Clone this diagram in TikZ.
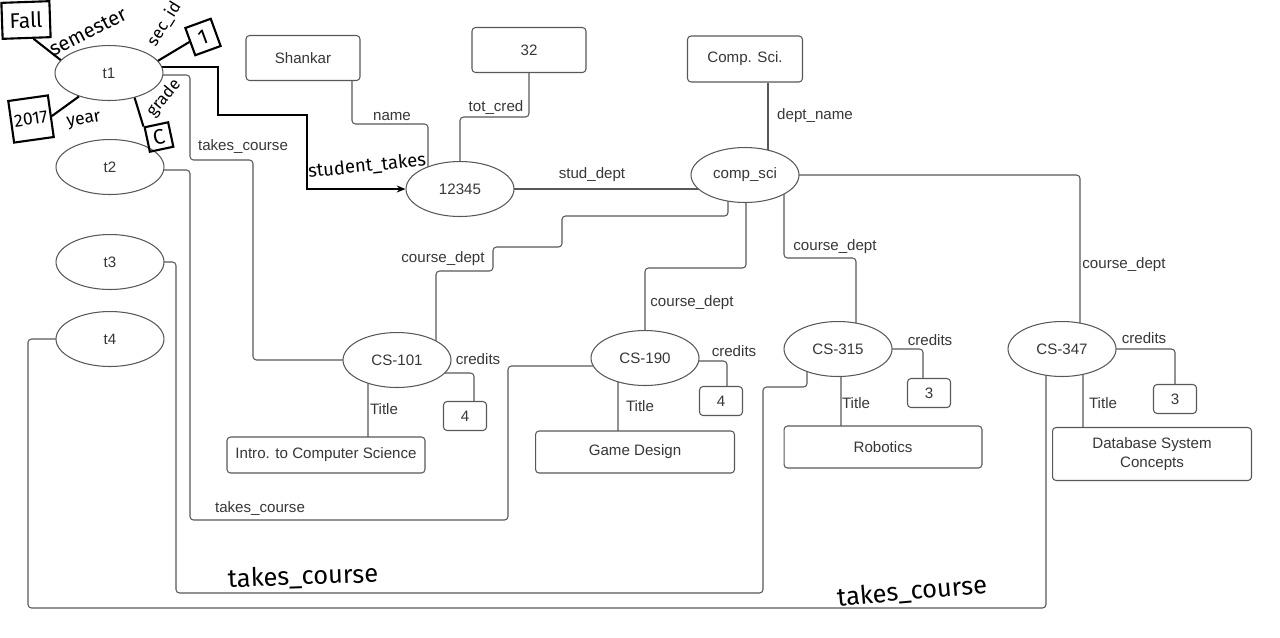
\documentclass[tikz,border=0pt]{standalone}
\usepackage{fontspec}
\setmainfont{Liberation Sans}
\newfontfamily\handfont{Fira Sans}
\usepackage{tikz}
\usetikzlibrary{calc}
\usetikzlibrary{positioning,shapes.geometric,arrows.meta}
\pgfdeclarelayer{bg}
\pgfsetlayers{bg,main}
\definecolor{linegray}{RGB}{88,88,88}
\definecolor{textgray}{RGB}{55,55,55}

\begin{document}
\begin{tikzpicture}[x=0.02cm, y=-0.02cm,
        ent/.style={ellipse, draw=linegray, line width=0.6pt, fill=white, minimum width=2.16cm, minimum height=1.1cm, inner sep=0pt, text=textgray, font=\fontsize{8.6}{10}\selectfont},
        val/.style={rectangle, rounded corners=2pt, draw=linegray, line width=0.6pt, fill=white, inner sep=0pt, text=textgray, font=\fontsize{8.6}{10.8}\selectfont},
        small/.style={val, minimum width=0.86cm, minimum height=0.58cm},
        lbl/.style={inner sep=0pt, text=textgray, font=\fontsize{8.6}{10}\selectfont},
        conn/.style={draw=linegray, line width=0.6pt, rounded corners=2pt},
        hand/.style={black, line width=1.2pt},
        hbox/.style={draw=black, line width=1.2pt, inner sep=0pt, font=\handfont\fontsize{12}{12}\selectfont},
        htext/.style={inner sep=0pt, font=\handfont\fontsize{10.5}{11}\selectfont}]
        \useasboundingbox (0,0) rectangle (1280,637);

        \node[ent] (t1) at (109,73) {t1};
        \node[ent] (t2) at (110,167) {t2};
        \node[ent] (t3) at (110,262) {t3};
        \node[ent] (t4) at (110,339) {t4};
        \node[ent] (stud) at (460,189) {12345};
        \node[ent] (dept) at (745,175) {comp\_sci};
        \node[ent] (cs101) at (397,360) {CS-101};
        \node[ent] (cs190) at (645,358) {CS-190};
        \node[ent] (cs315) at (838,349) {CS-315};
        \node[ent] (cs347) at (1062,349) {CS-347};

        \node[val, minimum width=2.28cm, minimum height=0.9cm] (shankar) at (303,58) {Shankar};
        \node[val, minimum width=2.28cm, minimum height=0.9cm] (cred) at (529,50) {32};
        \node[val, minimum width=2.3cm, minimum height=0.92cm] (dname) at (745,59) {Comp. Sci.};
        \node[small] (cr101) at (465,416) {4};
        \node[small] (cr190) at (721,401) {4};
        \node[small] (cr315) at (929,393) {3};
        \node[small] (cr347) at (1175,399) {3};
        \node[val, minimum width=3.96cm, minimum height=0.72cm] (ti101) at (326,455) {Intro. to Computer Science};
        \node[val, minimum width=3.98cm, minimum height=0.84cm] (ti190) at (635,452) {Game Design};
        \node[val, minimum width=3.96cm, minimum height=0.84cm] (ti315) at (883,447) {Robotics};
        \node[val, minimum width=3.98cm, minimum height=1.06cm, align=center] (ti347) at (1152,454) {Database System\\Concepts};

        \node[lbl] (lname) at (392,116) {name};
        \node[lbl] (lcred) at (496,108) {tot\_cred};
        \node[lbl] (ldname) at (815,116) {dept\_name};
        \node[lbl] (lsdept) at (592,175) {stud\_dept};
        \node[lbl] (ltc1) at (243,147) {takes\_course};
        \node[lbl] (ltc2) at (260,509) {takes\_course};
        \node[lbl] (lcd101) at (443,259) {course\_dept};
        \node[lbl] (lcd190) at (692,303) {course\_dept};
        \node[lbl] (lcd315) at (835,247) {course\_dept};
        \node[lbl] (lcd347) at (1124,265) {course\_dept};
        \node[lbl] (lcr101) at (478,359) {credits};
        \node[lbl] (lcr190) at (734,351) {credits};
        \node[lbl] (lcr315) at (930,340) {credits};
        \node[lbl] (lcr347) at (1144,338) {credits};
        \node[lbl] (lti101) at (384,409) {Title};
        \node[lbl] (lti190) at (640,406) {Title};
        \node[lbl] (lti315) at (856,403) {Title};
        \node[lbl] (lti347) at (1103,403) {Title};

        \begin{pgfonlayer}{bg}
            \draw[conn] ($(shankar.south)+(49,0)$) |- (428,124) -- ($(stud.center)+(-32,0)$);
            \draw[conn] (cred.south) |- (460,117) -- (stud.center);
            \draw[conn] (stud.center) -- (stud.center -| dept.center);
            \draw[conn] ($(dname.south)+(23,0)$) -- ($(dept.center)+(23,0)$);
            \draw[conn] ($(dept.center)+(-17,0)$) |- (562,216) |- (493,247) |- (436,271) -- ($(cs101.center)+(39,0)$);
            \draw[conn] ($(dept.center)+(1,0)$) |- (645,268) -- (cs190.center);
            \draw[conn] ($(dept.center)+(39,0)$) |- (856,258) -- ($(cs315.center)+(18,0)$);
            \draw[conn] (dept.center) -| ($(cs347.center)+(18,0)$);
            \draw[conn] ($(cs101.center)+(0,13)$) -| ($(cr101.center)+(9,0)$);
            \draw[conn] ($(cs101.center)+(-29,0)$) |- (ti101.center);
            \draw[conn] ($(cs190.center)+(0,3)$) -| ($(cr190.center)+(6,0)$);
            \draw[conn] ($(cs190.center)+(-27,0)$) |- (ti190.center);
            \draw[conn] (cs315.center) -| ($(cr315.center)+(-6,0)$);
            \draw[conn] ($(cs315.center)+(3,0)$) |- (ti315.center);
            \draw[conn] (cs347.center) -| (cr347.center);
            \draw[conn] ($(cs347.center)+(21,0)$) |- (ti347.center);
            \draw[conn] ($(t1.center)+(0,2)$) -| (190,160) -| (253,360) -- (cs101.center);
            \draw[conn] ($(t2.center)+(0,3)$) -| (190,520) -| (508,366) -- ($(cs190.center)+(0,8)$);
            \draw[conn] (t3.center) -| (176,593) -| (763,387) -| ($(cs315.center)+(-31,0)$);
            \draw[conn] (t4.center) -| (28,608) -| ($(cs347.center)+(-16,0)$);
            \draw[hand, -{Stealth[length=5pt,width=4pt]}] ($(t1.center)+(0,-6)$) -| (218,115) -| (307,189) -- (stud.west);
        \end{pgfonlayer}

        \node[hbox, minimum width=0.96cm, minimum height=0.72cm, rotate=2] (fall) at (26,20) {Fall};
        \node[hbox, minimum width=0.54cm, minimum height=0.58cm, rotate=20] (sec) at (203,37) {1};
        \node[hbox, minimum width=0.8cm, minimum height=0.84cm, rotate=8, font=\handfont\fontsize{10}{10}\selectfont] (yr) at (31,119) {2017};
        \node[hbox, minimum width=0.48cm, minimum height=0.5cm, rotate=12] (gr) at (159,137) {C};
        \draw[hand] (fall.290) -- (t1.165);
        \draw[hand] (t1.14) -- (sec.west);
        \draw[hand] (yr.east) -- (t1.218);
        \draw[hand] (t1.316) -- (gr.north west);
        \node[htext, rotate=27, font=\handfont\fontsize{11.5}{12}\selectfont] (semester) at (88,32) {semester};
        \node[htext, rotate=58, font=\handfont\fontsize{9.5}{10}\selectfont] (secid) at (164,24) {sec\_id};
        \node[htext, rotate=10, font=\handfont\fontsize{10}{11}\selectfont] (year) at (84,121) {year};
        \node[htext, rotate=50, font=\handfont\fontsize{9.5}{10}\selectfont] (grade) at (164,98) {grade};
        \node[htext, rotate=6] (sttakes) at (367,166) {student\_takes};
        \node[htext, rotate=2, font=\handfont\fontsize{14.5}{15}\selectfont] (tc3) at (303,577) {takes\_course};
        \node[htext, rotate=5, font=\handfont\fontsize{14.5}{15}\selectfont] (tc4) at (912,592) {takes\_course};
    \end{tikzpicture}
\end{document}
